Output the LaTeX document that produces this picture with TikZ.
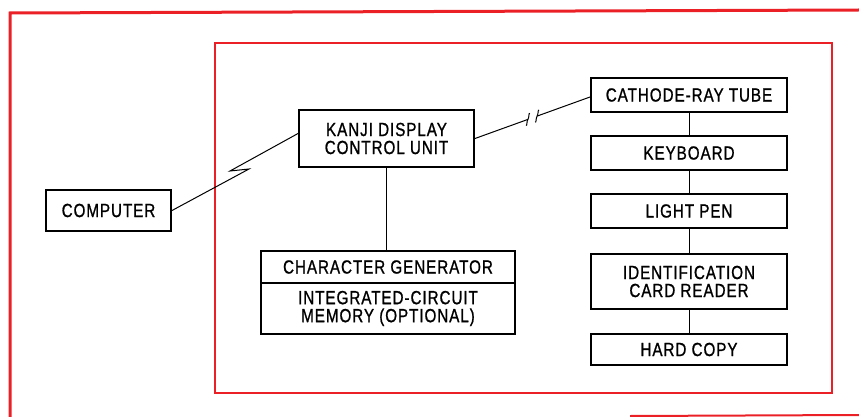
\documentclass[tikz,border=0pt]{standalone}
\usepackage{fontspec}
\setmainfont{Liberation Sans}[FakeStretch=0.8, LetterSpace=5, FakeBold=1]
\usetikzlibrary{calc}
\definecolor{framered}{RGB}{234,32,38}

\begin{document}
\begin{tikzpicture}[x=1pt, y=-1pt,
  every node/.style={font=\fontsize{19}{18}\selectfont, align=center, inner sep=0pt},
  blk/.style={draw, line width=2pt},
  wire/.style={line width=1pt}]
  \useasboundingbox (0,0) rectangle (859,417);
  % red frames
  \draw[framered, line width=3pt] (859,10) -- (10,13) -- (10,417);
  \draw[framered, line width=2pt] (630,416) -- (859,415);
  \draw[framered, line width=2.5pt] (215,43) rectangle (832,393);
  % left part
  \node[blk, minimum width=125pt, minimum height=41pt] (comp) at (108.5,210.5) {COMPUTER};
  \node[blk, minimum width=175pt, minimum height=57pt] (kdcu) at (386.5,138.5) {KANJI DISPLAY\\CONTROL UNIT};
  \node[blk, minimum width=254pt, minimum height=32pt] (cgen) at (388,267) {CHARACTER GENERATOR};
  \node[blk, minimum width=254pt, minimum height=51pt] (icmem) at (388,308.5) {INTEGRATED-CIRCUIT\\MEMORY (OPTIONAL)};
  % right column
  \foreach \n/\y/\h/\t in {crt/95/34/CATHODE-RAY TUBE, kbd/153/34/KEYBOARD, pen/211/34/LIGHT PEN,
      card/281.5/55/{IDENTIFICATION\\CARD READER}, hcopy/349.5/31/HARD COPY}
    \node[blk, minimum width=196pt, minimum height=\h pt] (\n) at (689,\y) {\t};
  \foreach \a/\b in {crt/kbd, kbd/pen, pen/card, card/hcopy}
    \draw[wire] (\a) -- (\b);
  % links
  \coordinate (zigA) at (249,169);
  \coordinate (zigB) at (230,171);
  \draw[wire] (comp.east) -- (zigA) -- (zigB) -- ([yshift=5pt]kdcu.west);
  \draw[wire] (kdcu.south) -- (kdcu.south |- cgen.north);
  \coordinate (brkA) at ($(kdcu.east)!0.46!([yshift=-2pt]crt.west)$);
  \coordinate (brkB) at ($(kdcu.east)!0.54!([yshift=-2pt]crt.west)$);
  \draw[wire] (kdcu.east) -- (brkA);
  \draw[wire] (brkB) -- ([yshift=-2pt]crt.west);
  \foreach \p in {brkA, brkB}
    \draw[wire] ([shift={(-2,6)}]\p) .. controls ([shift={(-0.5,7)}]\p) and ([shift={(-1.5,2)}]\p) .. (\p)
      .. controls ([shift={(1.5,-2)}]\p) and ([shift={(0.5,-7)}]\p) .. ([shift={(2,-6)}]\p);
\end{tikzpicture}
\end{document}
